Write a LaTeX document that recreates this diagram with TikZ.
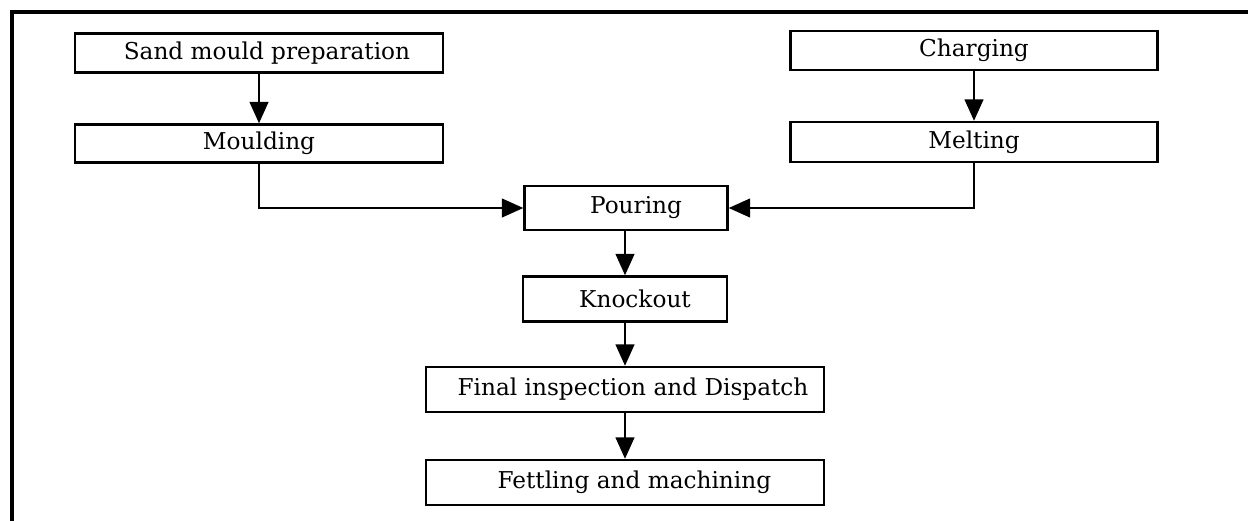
\documentclass[tikz,border=0pt]{standalone}
\usepackage{fontspec}
\setmainfont{DejaVu Serif}
\usetikzlibrary{arrows.meta}
\begin{document}
\begin{tikzpicture}[x=0.75pt,y=-0.75pt,
  box/.style={draw,line width=1.8pt,minimum width=#1*0.75pt,inner sep=0pt,font=\fontsize{17.4}{19}\selectfont},
  arr/.style={line width=1.5pt,-{Triangle[length=16pt,width=14pt]}}]
\useasboundingbox (0,0) rectangle (1248,521);
\draw[line width=2.4pt] (1248,12) -- (12,12) coordinate (tl) -- (12,521);
\node[box=368,minimum height=39*0.75pt] (sand) at (259,53) {\hspace*{12pt}Sand mould preparation};
\node[box=368,minimum height=38*0.75pt] (mould) at (259,143.5) {Moulding};
\node[box=367,minimum height=39*0.75pt] (charg) at (974,50.5) {Charging};
\node[box=367,minimum height=40*0.75pt] (melt) at (974,142) {Melting};
\node[box=203,minimum height=44*0.75pt] (pour) at (626,208) {\hspace*{15pt}Pouring};
\node[box=204,minimum height=45*0.75pt] (knock) at (625,299) {\hspace*{15pt}Knockout};
\node[box=398,minimum height=45*0.75pt] (final) at (625,389.5) {\hspace*{12pt}Final inspection and Dispatch};
\node[box=398,minimum height=45*0.75pt] (fettle) at (625,482.5) {\hspace*{14pt}Fettling and machining};
\draw[arr] (sand) -- (mould);
\draw[arr] (charg) -- (melt);
\draw[arr] (mould.south) |- (pour.west);
\draw[arr] (melt.south) |- (pour.east);
\draw[arr] (pour.south -| knock.north) -- (knock.north);
\draw[arr] (knock) -- (final);
\draw[arr] (final) -- (fettle);
\end{tikzpicture}
\end{document}
